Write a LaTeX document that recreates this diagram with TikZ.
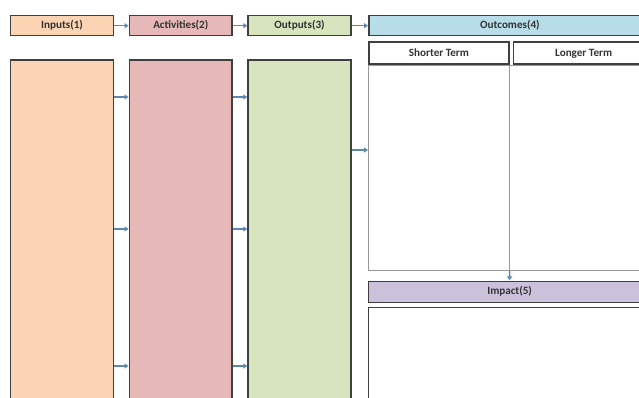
\documentclass[tikz,border=0pt]{standalone}
\usepackage{fontspec}
\setmainfont{Carlito}
\usetikzlibrary{positioning,arrows.meta}
\definecolor{inputfill}{HTML}{FBD4B4}
\definecolor{actfill}{HTML}{E6B9B8}
\definecolor{outfill}{HTML}{D7E4BD}
\definecolor{ocfill}{HTML}{B7DDE8}
\definecolor{impfill}{HTML}{CCC1DA}
\definecolor{edgegray}{HTML}{3F3F3F}
\definecolor{flowblue}{HTML}{5B87B5}
\tikzset{
  hdr/.style={draw=edgegray, line width=1.2pt, minimum height=0.6cm, minimum width=3.08cm,
    inner sep=0pt, text height=1.5ex, text depth=0.4ex,
    font=\bfseries\fontsize{9.5}{11}\selectfont, text=black!80},
  col/.style={draw=edgegray, line width=1.2pt, minimum height=10.5cm, minimum width=3.08cm, inner sep=0pt},
  frame/.style={draw=gray!80, line width=0.6pt, inner sep=0pt},
  flow/.style={flowblue, line width=1.3pt, -{Latex[length=3.5pt,width=5pt]}}
}
\begin{document}
\begin{tikzpicture}
  \useasboundingbox (0,0) rectangle (19.17,-11.91);
  \clip (0,0) rectangle (19.17,-11.91);
  \fill[white] (0,0) rectangle (19.17,-11.91);
  % top row
  \node[hdr, fill=inputfill, anchor=north west] (inH) at (0.30,-0.45) {Inputs(1)};
  \node[hdr, fill=actfill, right=0.44cm of inH] (actH) {Activities(2)};
  \node[hdr, fill=outfill, right=0.44cm of actH] (outH) {Outputs(3)};
  \node[hdr, fill=ocfill, minimum width=8.46cm, right=0.5cm of outH] (ocH) {Outcomes(4)};
  % columns
  \node[col, fill=inputfill, below=0.69cm of inH] (inC) {};
  \node[col, fill=actfill, below=0.69cm of actH] (actC) {};
  \node[col, fill=outfill, below=0.69cm of outH] (outC) {};
  % outcomes part
  \node[hdr, fill=white, minimum width=4.2cm, minimum height=0.66cm,
    below right=0.15cm and 0cm of ocH.south west] (stH) {Shorter Term};
  \node[hdr, fill=white, minimum width=4.2cm, minimum height=0.66cm, right=0.1cm of stH] (ltH) {Longer Term};
  \node[frame, anchor=north west, minimum width=8.46cm, minimum height=6.15cm] (ocB) at (stH.south west) {};
  \draw[frame] (stH.south east) -- (stH.east |- ocB.south);
  % impact part
  \node[hdr, fill=impfill, minimum width=8.46cm, minimum height=0.63cm, below=0.3cm of ocB] (impH) {Impact(5)};
  \node[col, fill=white, minimum width=8.46cm, minimum height=4cm, below=0.12cm of impH] (impB) {};
  % arrows
  \draw[flow] (inH) -- (actH);
  \draw[flow] (actH) -- (outH);
  \draw[flow] (outH) -- (ocH);
  \foreach \y in {-2.91,-6.87,-10.98} {
    \draw[flow] (inC.east |- 0,\y) -- (actC.west |- 0,\y);
    \draw[flow] (actC.east |- 0,\y) -- (outC.west |- 0,\y);
  }
  \draw[flow] (outC.east |- 0,-4.5) -- (ocB.west |- 0,-4.5);
  \draw[flow] (stH.east |- ocB.south) -- (impH.north);
\end{tikzpicture}
\end{document}
